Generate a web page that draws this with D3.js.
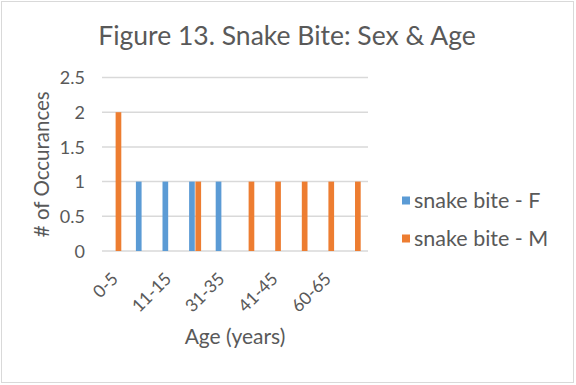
<!DOCTYPE html>
<html>
<head>
<meta charset="utf-8">
<script src="https://d3js.org/d3.v7.min.js"></script>
<style>
  body { margin: 0; background: #fff; }
  text { font-family: Lato, "Open Sans", sans-serif; fill: #595959; }
</style>
</head>
<body>
<div id="chart"></div>
<script>
// data
const ageGroups = ["0-5", "6-10", "11-15", "21-25", "31-35", "36-40", "41-45", "51-55", "60-65", "71-75"];
const femaleCounts = [0, 1, 1, 1, 1, 0, 0, 0, 0, 0];
const maleCounts = [2, 0, 0, 1, 0, 1, 1, 1, 1, 1];
const seriesNames = ["snake bite - F", "snake bite - M"];
const yTicks = [0, 0.5, 1, 1.5, 2, 2.5];

const width = 576, height = 385;
const plot = { left: 102, right: 368, top: 77.5, bottom: 251 };
const colors = ["#5B9BD5", "#ED7D31"];

const svg = d3.select("#chart").append("svg")
  .attr("width", width)
  .attr("height", height);

// chart border
svg.append("rect")
  .attr("x", 1.5).attr("y", 1.5)
  .attr("width", 572).attr("height", 381)
  .attr("fill", "#fff")
  .attr("stroke", "#d9d9d9");

const x = d3.scaleBand()
  .domain(ageGroups)
  .range([plot.left, plot.right]);

const xInner = d3.scaleBand()
  .domain(seriesNames)
  .range([-6, 6])
  .paddingInner(0.1);

const y = d3.scaleLinear()
  .domain([0, 2.5])
  .range([plot.bottom, plot.top]);

// gridlines
svg.append("g")
  .selectAll("line")
  .data(yTicks)
  .enter().append("line")
  .attr("x1", plot.left).attr("x2", plot.right)
  .attr("y1", d => y(d)).attr("y2", d => y(d))
  .attr("stroke", "#d9d9d9")
  .attr("stroke-width", 1.5);

// y axis labels
const yAxis = d3.axisLeft(y).tickValues(yTicks).tickFormat(d => String(d)).tickSize(0).tickPadding(0);
svg.append("g")
  .attr("transform", `translate(85, 0)`)
  .call(yAxis)
  .call(g => g.select(".domain").remove())
  .selectAll("text")
  .attr("font-size", "18px")
  .attr("dy", "0.35em")
  .style("fill", "#595959")
  .style("font-family", "Lato, sans-serif");

// bars
const rows = ageGroups.map((g, i) => ({ group: g, values: [femaleCounts[i], maleCounts[i]] }));
const groups = svg.append("g")
  .selectAll("g")
  .data(rows)
  .enter().append("g")
  .attr("transform", d => `translate(${x(d.group) + x.bandwidth() / 2}, 0)`);

groups.selectAll("rect")
  .data(d => d.values.map((v, k) => ({ name: seriesNames[k], value: v, k })))
  .enter().append("rect")
  .attr("x", d => xInner(d.name))
  .attr("width", xInner.bandwidth())
  .attr("y", d => y(d.value))
  .attr("height", d => y(0) - y(d.value))
  .attr("fill", d => colors[d.k]);

// x axis labels (every other category, like the original)
svg.append("g")
  .selectAll("text")
  .data(ageGroups.filter((d, i) => i % 2 === 0))
  .enter().append("text")
  .attr("text-anchor", "end")
  .attr("font-size", "17.5px")
  .attr("transform", d => `translate(${x(d) + x.bandwidth() / 2 + 4}, 280) rotate(-45)`)
  .text(d => d);

// axis titles
svg.append("text")
  .attr("x", (plot.left + plot.right) / 2)
  .attr("y", 344)
  .attr("text-anchor", "middle")
  .attr("font-size", "21px")
  .text("Age (years)");

svg.append("text")
  .attr("transform", `translate(49, ${(plot.top + plot.bottom) / 2}) rotate(-90)`)
  .attr("text-anchor", "middle")
  .attr("font-size", "20.5px")
  .text("# of Occurances");

// title
svg.append("text")
  .attr("x", 287)
  .attr("y", 45)
  .attr("text-anchor", "middle")
  .attr("font-size", "26.5px")
  .text("Figure 13. Snake Bite: Sex & Age");

// legend
const legend = svg.append("g")
  .selectAll("g")
  .data(seriesNames)
  .enter().append("g")
  .attr("transform", (d, i) => `translate(402, ${200.5 + i * 38})`);

legend.append("rect")
  .attr("x", 0).attr("y", -4)
  .attr("width", 8).attr("height", 8)
  .attr("fill", (d, i) => colors[i]);

legend.append("text")
  .attr("x", 12)
  .attr("dy", "0.35em")
  .attr("font-size", "21.5px")
  .text(d => d);
</script>
</body>
</html>
